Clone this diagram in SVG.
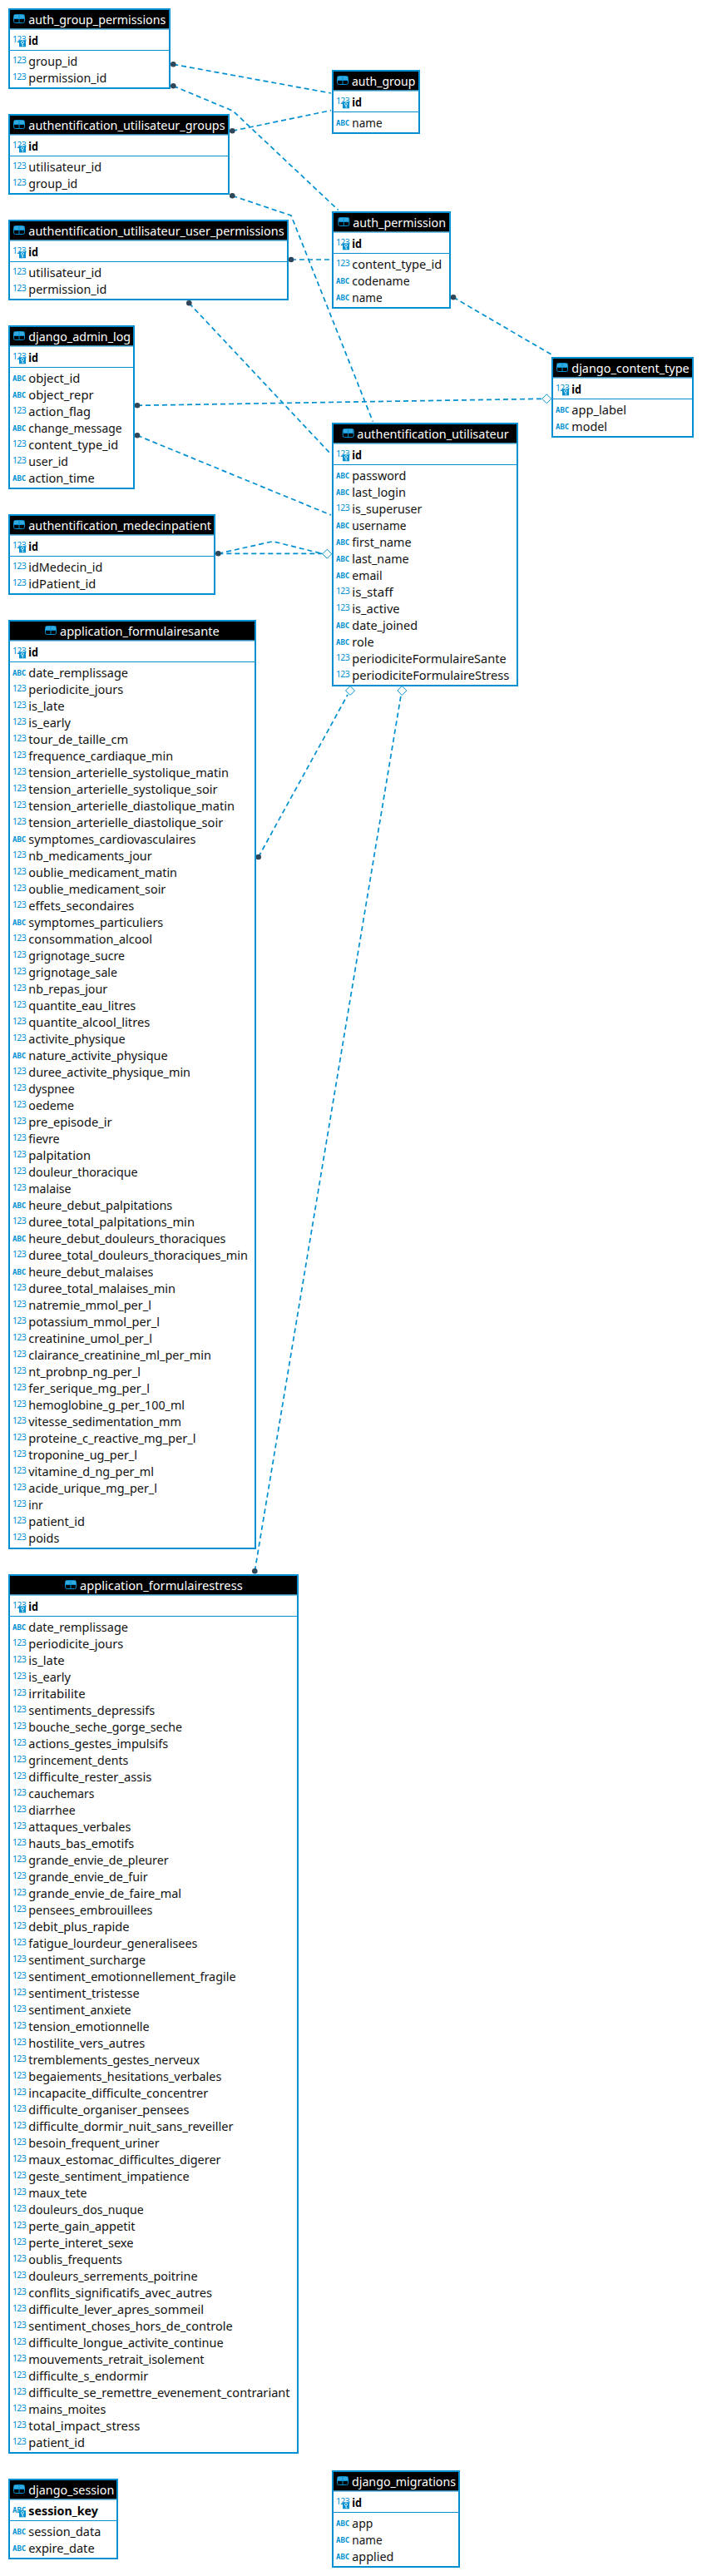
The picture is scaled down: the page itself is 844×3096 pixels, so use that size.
<svg xmlns="http://www.w3.org/2000/svg" xmlns:xlink="http://www.w3.org/1999/xlink" width="844" height="3096" viewBox="0 0 844 3096">
<style>
text{font-family:"Noto Sans","Liberation Sans",sans-serif}
.box{fill:#fff;stroke:#0090d1;stroke-width:2}
.hd{fill:#000}
.sep{stroke:#0090d1;stroke-width:1}
.t{fill:#fff;font-size:14px}
.r{fill:#111;font-size:14px}
.k{fill:#000;font-size:14px;font-weight:700}
.n{fill:#0090d1;font-size:10.5px;letter-spacing:-.65px}
.a{fill:#0090d1;font-family:"DejaVu Sans Mono",monospace;font-size:9px;font-weight:700}
.c{fill:none;stroke:#0090d1;stroke-width:1.7;stroke-dasharray:6 4}
.dot{fill:#2f4658}
.dia{fill:#fff;stroke:#0090d1;stroke-width:1}
</style>
<defs>
<g id="tb"><rect x=".5" y=".5" width="13" height="10" rx="2" fill="#000" stroke="#0090d1"/><rect x="1" y="1" width="12" height="4.5" fill="#35a9de"/><path d="M1 5.5H13M7 1V10" stroke="#0090d1" fill="none"/></g>
<g id="ky"><rect width="8" height="8" fill="#0090d1"/><circle cx="4" cy="2.8" r="1.5" fill="none" stroke="#fff" stroke-width=".8"/><path d="M4 4.3V7M4 6.5H5.4" stroke="#fff" stroke-width=".8" fill="none"/></g>
</defs>
<g id="connectors">
<path class="c" d="M208.3 77.3L398 112"/>
<path class="c" d="M208.3 103.3L280 133.3L406.7 252.5"/>
<path class="c" d="M279.3 157.3L398 132.7"/>
<path class="c" d="M279.3 235.3L350 259L448.3 506.7"/>
<path class="c" d="M350 312H398"/>
<path class="c" d="M227.3 364.3L398 546"/>
<path class="c" d="M545 357.3L665 427.3"/>
<path class="c" d="M165 487.3L651.5 479.3"/>
<path class="c" d="M165 523.3L398 619"/>
<path class="c" d="M262.3 665.3H387.5"/>
<path class="c" d="M262.3 665.3L328 650.7L387.5 665.5"/>
<path class="c" d="M310.7 1030L418 835"/>
<path class="c" d="M306.3 1888.3L482 836"/>
<g id="ends">
<circle class="dot" cx="208.3" cy="77.3" r="3.3"/><circle class="dot" cx="208.3" cy="103.3" r="3.3"/><circle class="dot" cx="279.3" cy="157.3" r="3.3"/><circle class="dot" cx="279.3" cy="235.3" r="3.3"/><circle class="dot" cx="350" cy="312" r="3.3"/><circle class="dot" cx="227.3" cy="364.3" r="3.3"/><circle class="dot" cx="545" cy="357.3" r="3.3"/><circle class="dot" cx="165" cy="487.3" r="3.3"/><circle class="dot" cx="165" cy="523.3" r="3.3"/><circle class="dot" cx="262.3" cy="665.3" r="3.3"/><circle class="dot" cx="310.7" cy="1030" r="3.3"/><circle class="dot" cx="306.3" cy="1888.3" r="3.3"/>
<path class="dia" d="M657.3 473.8L662.8 479.3L657.3 484.8L651.8 479.3Z"/>
<path class="dia" d="M393.3 660.2L398.8 665.7L393.3 671.2L387.8 665.7Z"/>
<path class="dia" d="M421 824.5L426.5 830L421 835.5L415.5 830Z"/>
<path class="dia" d="M483.3 824.5L488.8 830L483.3 835.5L477.8 830Z"/>
</g>
</g>
<g id="auth_group_permissions" transform="translate(10,10)"><rect class="box" x="1" y="1" width="193" height="95"/><rect class="hd" x="2" y="2" width="191" height="22.5"/><path class="sep" d="M2 25H193M2 50.5H193"/><use href="#tb" x="6" y="7"/><text class="t" x="24.3" y="19" textLength="165" lengthAdjust="spacingAndGlyphs">auth_group_permissions</text>
<text class="n" x="5" y="40.7">123</text><use href="#ky" x="13" y="38.3"/><text class="k" x="24.3" y="43.5" textLength="11.7" lengthAdjust="spacingAndGlyphs">id</text>
<text class="n" x="5" y="66">123</text><text class="r" x="24.3" y="69" textLength="59" lengthAdjust="spacingAndGlyphs">group_id</text>
<text class="n" x="5" y="86">123</text><text class="r" x="24.3" y="89" textLength="94" lengthAdjust="spacingAndGlyphs">permission_id</text></g>
<g id="authentification_utilisateur_groups" transform="translate(10,137)"><rect class="box" x="1" y="1" width="264" height="95"/><rect class="hd" x="2" y="2" width="262" height="22.5"/><path class="sep" d="M2 25H264M2 50.5H264"/><use href="#tb" x="6" y="7"/><text class="t" x="24.3" y="19" textLength="236.3" lengthAdjust="spacingAndGlyphs">authentification_utilisateur_groups</text>
<text class="n" x="5" y="40.7">123</text><use href="#ky" x="13" y="38.3"/><text class="k" x="24.3" y="43.5" textLength="11.7" lengthAdjust="spacingAndGlyphs">id</text>
<text class="n" x="5" y="66">123</text><text class="r" x="24.3" y="69" textLength="88" lengthAdjust="spacingAndGlyphs">utilisateur_id</text>
<text class="n" x="5" y="86">123</text><text class="r" x="24.3" y="89" textLength="59" lengthAdjust="spacingAndGlyphs">group_id</text></g>
<g id="authentification_utilisateur_user_permissions" transform="translate(10,264)"><rect class="box" x="1" y="1" width="335" height="95"/><rect class="hd" x="2" y="2" width="333" height="22.5"/><path class="sep" d="M2 25H335M2 50.5H335"/><use href="#tb" x="6" y="7"/><text class="t" x="24.3" y="19" textLength="307.3" lengthAdjust="spacingAndGlyphs">authentification_utilisateur_user_permissions</text>
<text class="n" x="5" y="40.7">123</text><use href="#ky" x="13" y="38.3"/><text class="k" x="24.3" y="43.5" textLength="11.7" lengthAdjust="spacingAndGlyphs">id</text>
<text class="n" x="5" y="66">123</text><text class="r" x="24.3" y="69" textLength="88" lengthAdjust="spacingAndGlyphs">utilisateur_id</text>
<text class="n" x="5" y="86">123</text><text class="r" x="24.3" y="89" textLength="94" lengthAdjust="spacingAndGlyphs">permission_id</text></g>
<g id="django_admin_log" transform="translate(10,391)"><rect class="box" x="1" y="1" width="150" height="195"/><rect class="hd" x="2" y="2" width="148" height="22.5"/><path class="sep" d="M2 25H150M2 50.5H150"/><use href="#tb" x="6" y="7"/><text class="t" x="24.3" y="19" textLength="122.7" lengthAdjust="spacingAndGlyphs">django_admin_log</text>
<text class="n" x="5" y="40.7">123</text><use href="#ky" x="13" y="38.3"/><text class="k" x="24.3" y="43.5" textLength="11.7" lengthAdjust="spacingAndGlyphs">id</text>
<text class="a" x="5" y="67">ABC</text><text class="r" x="24.3" y="69" textLength="62" lengthAdjust="spacingAndGlyphs">object_id</text>
<text class="a" x="5" y="87">ABC</text><text class="r" x="24.3" y="89" textLength="78.3" lengthAdjust="spacingAndGlyphs">object_repr</text>
<text class="n" x="5" y="106">123</text><text class="r" x="24.3" y="109" textLength="74.7" lengthAdjust="spacingAndGlyphs">action_flag</text>
<text class="a" x="5" y="127">ABC</text><text class="r" x="24.3" y="129" textLength="112.3" lengthAdjust="spacingAndGlyphs">change_message</text>
<text class="n" x="5" y="146">123</text><text class="r" x="24.3" y="149" textLength="108" lengthAdjust="spacingAndGlyphs">content_type_id</text>
<text class="n" x="5" y="166">123</text><text class="r" x="24.3" y="169" textLength="47.7" lengthAdjust="spacingAndGlyphs">user_id</text>
<text class="a" x="5" y="187">ABC</text><text class="r" x="24.3" y="189" textLength="79.3" lengthAdjust="spacingAndGlyphs">action_time</text></g>
<g id="authentification_medecinpatient" transform="translate(10,618)"><rect class="box" x="1" y="1" width="247" height="95"/><rect class="hd" x="2" y="2" width="245" height="22.5"/><path class="sep" d="M2 25H247M2 50.5H247"/><use href="#tb" x="6" y="7"/><text class="t" x="24.3" y="19" textLength="219.7" lengthAdjust="spacingAndGlyphs">authentification_medecinpatient</text>
<text class="n" x="5" y="40.7">123</text><use href="#ky" x="13" y="38.3"/><text class="k" x="24.3" y="43.5" textLength="11.7" lengthAdjust="spacingAndGlyphs">id</text>
<text class="n" x="5" y="66">123</text><text class="r" x="24.3" y="69" textLength="89" lengthAdjust="spacingAndGlyphs">idMedecin_id</text>
<text class="n" x="5" y="86">123</text><text class="r" x="24.3" y="89" textLength="81" lengthAdjust="spacingAndGlyphs">idPatient_id</text></g>
<g id="auth_group" transform="translate(399,84)"><rect class="box" x="1" y="1" width="104" height="75"/><rect class="hd" x="2" y="2" width="102" height="22.5"/><path class="sep" d="M2 25H104M2 50.5H104"/><use href="#tb" x="6" y="7"/><text class="t" x="24" y="19" textLength="76.3" lengthAdjust="spacingAndGlyphs">auth_group</text>
<text class="n" x="5" y="40.7">123</text><use href="#ky" x="13" y="38.3"/><text class="k" x="24.3" y="43.5" textLength="11.7" lengthAdjust="spacingAndGlyphs">id</text>
<text class="a" x="5" y="67">ABC</text><text class="r" x="24.3" y="69" textLength="36.3" lengthAdjust="spacingAndGlyphs">name</text></g>
<g id="auth_permission" transform="translate(399,254)"><rect class="box" x="1" y="1" width="141" height="115"/><rect class="hd" x="2" y="2" width="139" height="22.5"/><path class="sep" d="M2 25H141M2 50.5H141"/><use href="#tb" x="7.3" y="7"/><text class="t" x="25.3" y="19" textLength="111.7" lengthAdjust="spacingAndGlyphs">auth_permission</text>
<text class="n" x="5" y="40.7">123</text><use href="#ky" x="13" y="38.3"/><text class="k" x="24.3" y="43.5" textLength="11.7" lengthAdjust="spacingAndGlyphs">id</text>
<text class="n" x="5" y="66">123</text><text class="r" x="24.3" y="69" textLength="108" lengthAdjust="spacingAndGlyphs">content_type_id</text>
<text class="a" x="5" y="87">ABC</text><text class="r" x="24.3" y="89" textLength="69.3" lengthAdjust="spacingAndGlyphs">codename</text>
<text class="a" x="5" y="107">ABC</text><text class="r" x="24.3" y="109" textLength="36.3" lengthAdjust="spacingAndGlyphs">name</text></g>
<g id="django_content_type" transform="translate(663,429)"><rect class="box" x="1" y="1" width="169" height="95"/><rect class="hd" x="2" y="2" width="167" height="22.5"/><path class="sep" d="M2 25H169M2 50.5H169"/><use href="#tb" x="6" y="7"/><text class="t" x="24.3" y="19" textLength="141.3" lengthAdjust="spacingAndGlyphs">django_content_type</text>
<text class="n" x="5" y="40.7">123</text><use href="#ky" x="13" y="38.3"/><text class="k" x="24.3" y="43.5" textLength="11.7" lengthAdjust="spacingAndGlyphs">id</text>
<text class="a" x="5" y="67">ABC</text><text class="r" x="24.3" y="69" textLength="65.7" lengthAdjust="spacingAndGlyphs">app_label</text>
<text class="a" x="5" y="87">ABC</text><text class="r" x="24.3" y="89" textLength="42.7" lengthAdjust="spacingAndGlyphs">model</text></g>
<g id="authentification_utilisateur" transform="translate(399,508)"><rect class="box" x="1" y="1" width="222" height="315"/><rect class="hd" x="2" y="2" width="220" height="22.5"/><path class="sep" d="M2 25H222M2 50.5H222"/><use href="#tb" x="12.7" y="7"/><text class="t" x="30.3" y="19" textLength="182.3" lengthAdjust="spacingAndGlyphs">authentification_utilisateur</text>
<text class="n" x="5" y="40.7">123</text><use href="#ky" x="13" y="38.3"/><text class="k" x="24.3" y="43.5" textLength="11.7" lengthAdjust="spacingAndGlyphs">id</text>
<text class="a" x="5" y="67">ABC</text><text class="r" x="24.3" y="69" textLength="65" lengthAdjust="spacingAndGlyphs">password</text>
<text class="a" x="5" y="87">ABC</text><text class="r" x="24.3" y="89" textLength="64.7" lengthAdjust="spacingAndGlyphs">last_login</text>
<text class="n" x="5" y="106">123</text><text class="r" x="24.3" y="109" textLength="84" lengthAdjust="spacingAndGlyphs">is_superuser</text>
<text class="a" x="5" y="127">ABC</text><text class="r" x="24.3" y="129" textLength="65.3" lengthAdjust="spacingAndGlyphs">username</text>
<text class="a" x="5" y="147">ABC</text><text class="r" x="24.3" y="149" textLength="71.3" lengthAdjust="spacingAndGlyphs">first_name</text>
<text class="a" x="5" y="167">ABC</text><text class="r" x="24.3" y="169" textLength="68.3" lengthAdjust="spacingAndGlyphs">last_name</text>
<text class="a" x="5" y="187">ABC</text><text class="r" x="24.3" y="189" textLength="36.3" lengthAdjust="spacingAndGlyphs">email</text>
<text class="n" x="5" y="206">123</text><text class="r" x="24.3" y="209" textLength="49.3" lengthAdjust="spacingAndGlyphs">is_staff</text>
<text class="n" x="5" y="226">123</text><text class="r" x="24.3" y="229" textLength="57.3" lengthAdjust="spacingAndGlyphs">is_active</text>
<text class="a" x="5" y="247">ABC</text><text class="r" x="24.3" y="249" textLength="78.7" lengthAdjust="spacingAndGlyphs">date_joined</text>
<text class="a" x="5" y="267">ABC</text><text class="r" x="24.3" y="269" textLength="26.3" lengthAdjust="spacingAndGlyphs">role</text>
<text class="n" x="5" y="286">123</text><text class="r" x="24.3" y="289" textLength="185.3" lengthAdjust="spacingAndGlyphs">periodiciteFormulaireSante</text>
<text class="n" x="5" y="306">123</text><text class="r" x="24.3" y="309" textLength="189" lengthAdjust="spacingAndGlyphs">periodiciteFormulaireStress</text></g>
<g id="application_formulairesante" transform="translate(10,745)"><rect class="box" x="1" y="1" width="296" height="1115"/><rect class="hd" x="2" y="2" width="294" height="22.5"/><path class="sep" d="M2 25H296M2 50.5H296"/><use href="#tb" x="44" y="7"/><text class="t" x="62" y="19" textLength="191.7" lengthAdjust="spacingAndGlyphs">application_formulairesante</text>
<text class="n" x="5" y="40.7">123</text><use href="#ky" x="13" y="38.3"/><text class="k" x="24.3" y="43.5" textLength="11.7" lengthAdjust="spacingAndGlyphs">id</text>
<text class="a" x="5" y="67">ABC</text><text class="r" x="24.3" y="69" textLength="119.7" lengthAdjust="spacingAndGlyphs">date_remplissage</text>
<text class="n" x="5" y="86">123</text><text class="r" x="24.3" y="89" textLength="114" lengthAdjust="spacingAndGlyphs">periodicite_jours</text>
<text class="n" x="5" y="106">123</text><text class="r" x="24.3" y="109" textLength="43.3" lengthAdjust="spacingAndGlyphs">is_late</text>
<text class="n" x="5" y="126">123</text><text class="r" x="24.3" y="129" textLength="50.7" lengthAdjust="spacingAndGlyphs">is_early</text>
<text class="n" x="5" y="146">123</text><text class="r" x="24.3" y="149" textLength="120" lengthAdjust="spacingAndGlyphs">tour_de_taille_cm</text>
<text class="n" x="5" y="166">123</text><text class="r" x="24.3" y="169" textLength="173.7" lengthAdjust="spacingAndGlyphs">frequence_cardiaque_min</text>
<text class="n" x="5" y="186">123</text><text class="r" x="24.3" y="189" textLength="240.7" lengthAdjust="spacingAndGlyphs">tension_arterielle_systolique_matin</text>
<text class="n" x="5" y="206">123</text><text class="r" x="24.3" y="209" textLength="227.3" lengthAdjust="spacingAndGlyphs">tension_arterielle_systolique_soir</text>
<text class="n" x="5" y="226">123</text><text class="r" x="24.3" y="229" textLength="247.7" lengthAdjust="spacingAndGlyphs">tension_arterielle_diastolique_matin</text>
<text class="n" x="5" y="246">123</text><text class="r" x="24.3" y="249" textLength="234" lengthAdjust="spacingAndGlyphs">tension_arterielle_diastolique_soir</text>
<text class="a" x="5" y="267">ABC</text><text class="r" x="24.3" y="269" textLength="201" lengthAdjust="spacingAndGlyphs">symptomes_cardiovasculaires</text>
<text class="n" x="5" y="286">123</text><text class="r" x="24.3" y="289" textLength="148.3" lengthAdjust="spacingAndGlyphs">nb_medicaments_jour</text>
<text class="n" x="5" y="306">123</text><text class="r" x="24.3" y="309" textLength="178.7" lengthAdjust="spacingAndGlyphs">oublie_medicament_matin</text>
<text class="n" x="5" y="326">123</text><text class="r" x="24.3" y="329" textLength="165" lengthAdjust="spacingAndGlyphs">oublie_medicament_soir</text>
<text class="n" x="5" y="346">123</text><text class="r" x="24.3" y="349" textLength="127" lengthAdjust="spacingAndGlyphs">effets_secondaires</text>
<text class="a" x="5" y="367">ABC</text><text class="r" x="24.3" y="369" textLength="162" lengthAdjust="spacingAndGlyphs">symptomes_particuliers</text>
<text class="n" x="5" y="386">123</text><text class="r" x="24.3" y="389" textLength="148.7" lengthAdjust="spacingAndGlyphs">consommation_alcool</text>
<text class="n" x="5" y="406">123</text><text class="r" x="24.3" y="409" textLength="115.7" lengthAdjust="spacingAndGlyphs">grignotage_sucre</text>
<text class="n" x="5" y="426">123</text><text class="r" x="24.3" y="429" textLength="106.7" lengthAdjust="spacingAndGlyphs">grignotage_sale</text>
<text class="n" x="5" y="446">123</text><text class="r" x="24.3" y="449" textLength="95" lengthAdjust="spacingAndGlyphs">nb_repas_jour</text>
<text class="n" x="5" y="466">123</text><text class="r" x="24.3" y="469" textLength="129" lengthAdjust="spacingAndGlyphs">quantite_eau_litres</text>
<text class="n" x="5" y="486">123</text><text class="r" x="24.3" y="489" textLength="146" lengthAdjust="spacingAndGlyphs">quantite_alcool_litres</text>
<text class="n" x="5" y="506">123</text><text class="r" x="24.3" y="509" textLength="116.3" lengthAdjust="spacingAndGlyphs">activite_physique</text>
<text class="a" x="5" y="527">ABC</text><text class="r" x="24.3" y="529" textLength="167.3" lengthAdjust="spacingAndGlyphs">nature_activite_physique</text>
<text class="n" x="5" y="546">123</text><text class="r" x="24.3" y="549" textLength="194.7" lengthAdjust="spacingAndGlyphs">duree_activite_physique_min</text>
<text class="n" x="5" y="566">123</text><text class="r" x="24.3" y="569" textLength="55.3" lengthAdjust="spacingAndGlyphs">dyspnee</text>
<text class="n" x="5" y="586">123</text><text class="r" x="24.3" y="589" textLength="54.7" lengthAdjust="spacingAndGlyphs">oedeme</text>
<text class="n" x="5" y="606">123</text><text class="r" x="24.3" y="609" textLength="100.3" lengthAdjust="spacingAndGlyphs">pre_episode_ir</text>
<text class="n" x="5" y="626">123</text><text class="r" x="24.3" y="629" textLength="37.3" lengthAdjust="spacingAndGlyphs">fievre</text>
<text class="n" x="5" y="646">123</text><text class="r" x="24.3" y="649" textLength="74.7" lengthAdjust="spacingAndGlyphs">palpitation</text>
<text class="n" x="5" y="666">123</text><text class="r" x="24.3" y="669" textLength="131.3" lengthAdjust="spacingAndGlyphs">douleur_thoracique</text>
<text class="n" x="5" y="686">123</text><text class="r" x="24.3" y="689" textLength="51.3" lengthAdjust="spacingAndGlyphs">malaise</text>
<text class="a" x="5" y="707">ABC</text><text class="r" x="24.3" y="709" textLength="173" lengthAdjust="spacingAndGlyphs">heure_debut_palpitations</text>
<text class="n" x="5" y="726">123</text><text class="r" x="24.3" y="729" textLength="199.7" lengthAdjust="spacingAndGlyphs">duree_total_palpitations_min</text>
<text class="a" x="5" y="747">ABC</text><text class="r" x="24.3" y="749" textLength="237" lengthAdjust="spacingAndGlyphs">heure_debut_douleurs_thoraciques</text>
<text class="n" x="5" y="766">123</text><text class="r" x="24.3" y="769" textLength="263.7" lengthAdjust="spacingAndGlyphs">duree_total_douleurs_thoraciques_min</text>
<text class="a" x="5" y="787">ABC</text><text class="r" x="24.3" y="789" textLength="150" lengthAdjust="spacingAndGlyphs">heure_debut_malaises</text>
<text class="n" x="5" y="806">123</text><text class="r" x="24.3" y="809" textLength="176.7" lengthAdjust="spacingAndGlyphs">duree_total_malaises_min</text>
<text class="n" x="5" y="826">123</text><text class="r" x="24.3" y="829" textLength="147.7" lengthAdjust="spacingAndGlyphs">natremie_mmol_per_l</text>
<text class="n" x="5" y="846">123</text><text class="r" x="24.3" y="849" textLength="157.7" lengthAdjust="spacingAndGlyphs">potassium_mmol_per_l</text>
<text class="n" x="5" y="866">123</text><text class="r" x="24.3" y="869" textLength="148.7" lengthAdjust="spacingAndGlyphs">creatinine_umol_per_l</text>
<text class="n" x="5" y="886">123</text><text class="r" x="24.3" y="889" textLength="219.7" lengthAdjust="spacingAndGlyphs">clairance_creatinine_ml_per_min</text>
<text class="n" x="5" y="906">123</text><text class="r" x="24.3" y="909" textLength="134.7" lengthAdjust="spacingAndGlyphs">nt_probnp_ng_per_l</text>
<text class="n" x="5" y="926">123</text><text class="r" x="24.3" y="929" textLength="145.7" lengthAdjust="spacingAndGlyphs">fer_serique_mg_per_l</text>
<text class="n" x="5" y="946">123</text><text class="r" x="24.3" y="949" textLength="187.7" lengthAdjust="spacingAndGlyphs">hemoglobine_g_per_100_ml</text>
<text class="n" x="5" y="966">123</text><text class="r" x="24.3" y="969" textLength="183.7" lengthAdjust="spacingAndGlyphs">vitesse_sedimentation_mm</text>
<text class="n" x="5" y="986">123</text><text class="r" x="24.3" y="989" textLength="201.3" lengthAdjust="spacingAndGlyphs">proteine_c_reactive_mg_per_l</text>
<text class="n" x="5" y="1006">123</text><text class="r" x="24.3" y="1009" textLength="130.7" lengthAdjust="spacingAndGlyphs">troponine_ug_per_l</text>
<text class="n" x="5" y="1026">123</text><text class="r" x="24.3" y="1029" textLength="150.7" lengthAdjust="spacingAndGlyphs">vitamine_d_ng_per_ml</text>
<text class="n" x="5" y="1046">123</text><text class="r" x="24.3" y="1049" textLength="154.7" lengthAdjust="spacingAndGlyphs">acide_urique_mg_per_l</text>
<text class="n" x="5" y="1066">123</text><text class="r" x="24.3" y="1069" textLength="17.3" lengthAdjust="spacingAndGlyphs">inr</text>
<text class="n" x="5" y="1086">123</text><text class="r" x="24.3" y="1089" textLength="67.7" lengthAdjust="spacingAndGlyphs">patient_id</text>
<text class="n" x="5" y="1106">123</text><text class="r" x="24.3" y="1109" textLength="37" lengthAdjust="spacingAndGlyphs">poids</text></g>
<g id="application_formulairestress" transform="translate(10,1892)"><rect class="box" x="1" y="1" width="347" height="1055"/><rect class="hd" x="2" y="2" width="345" height="22.5"/><path class="sep" d="M2 25H347M2 50.5H347"/><use href="#tb" x="68" y="7"/><text class="t" x="86" y="19" textLength="195.7" lengthAdjust="spacingAndGlyphs">application_formulairestress</text>
<text class="n" x="5" y="40.7">123</text><use href="#ky" x="13" y="38.3"/><text class="k" x="24.3" y="43.5" textLength="11.7" lengthAdjust="spacingAndGlyphs">id</text>
<text class="a" x="5" y="67">ABC</text><text class="r" x="24.3" y="69" textLength="119.7" lengthAdjust="spacingAndGlyphs">date_remplissage</text>
<text class="n" x="5" y="86">123</text><text class="r" x="24.3" y="89" textLength="114" lengthAdjust="spacingAndGlyphs">periodicite_jours</text>
<text class="n" x="5" y="106">123</text><text class="r" x="24.3" y="109" textLength="43.3" lengthAdjust="spacingAndGlyphs">is_late</text>
<text class="n" x="5" y="126">123</text><text class="r" x="24.3" y="129" textLength="50.7" lengthAdjust="spacingAndGlyphs">is_early</text>
<text class="n" x="5" y="146">123</text><text class="r" x="24.3" y="149" textLength="68.3" lengthAdjust="spacingAndGlyphs">irritabilite</text>
<text class="n" x="5" y="166">123</text><text class="r" x="24.3" y="169" textLength="152" lengthAdjust="spacingAndGlyphs">sentiments_depressifs</text>
<text class="n" x="5" y="186">123</text><text class="r" x="24.3" y="189" textLength="184.7" lengthAdjust="spacingAndGlyphs">bouche_seche_gorge_seche</text>
<text class="n" x="5" y="206">123</text><text class="r" x="24.3" y="209" textLength="168" lengthAdjust="spacingAndGlyphs">actions_gestes_impulsifs</text>
<text class="n" x="5" y="226">123</text><text class="r" x="24.3" y="229" textLength="120" lengthAdjust="spacingAndGlyphs">grincement_dents</text>
<text class="n" x="5" y="246">123</text><text class="r" x="24.3" y="249" textLength="148" lengthAdjust="spacingAndGlyphs">difficulte_rester_assis</text>
<text class="n" x="5" y="266">123</text><text class="r" x="24.3" y="269" textLength="79" lengthAdjust="spacingAndGlyphs">cauchemars</text>
<text class="n" x="5" y="286">123</text><text class="r" x="24.3" y="289" textLength="56.3" lengthAdjust="spacingAndGlyphs">diarrhee</text>
<text class="n" x="5" y="306">123</text><text class="r" x="24.3" y="309" textLength="123" lengthAdjust="spacingAndGlyphs">attaques_verbales</text>
<text class="n" x="5" y="326">123</text><text class="r" x="24.3" y="329" textLength="127" lengthAdjust="spacingAndGlyphs">hauts_bas_emotifs</text>
<text class="n" x="5" y="346">123</text><text class="r" x="24.3" y="349" textLength="168.3" lengthAdjust="spacingAndGlyphs">grande_envie_de_pleurer</text>
<text class="n" x="5" y="366">123</text><text class="r" x="24.3" y="369" textLength="143.3" lengthAdjust="spacingAndGlyphs">grande_envie_de_fuir</text>
<text class="n" x="5" y="386">123</text><text class="r" x="24.3" y="389" textLength="183.7" lengthAdjust="spacingAndGlyphs">grande_envie_de_faire_mal</text>
<text class="n" x="5" y="406">123</text><text class="r" x="24.3" y="409" textLength="149" lengthAdjust="spacingAndGlyphs">pensees_embrouillees</text>
<text class="n" x="5" y="426">123</text><text class="r" x="24.3" y="429" textLength="121.3" lengthAdjust="spacingAndGlyphs">debit_plus_rapide</text>
<text class="n" x="5" y="446">123</text><text class="r" x="24.3" y="449" textLength="203" lengthAdjust="spacingAndGlyphs">fatigue_lourdeur_generalisees</text>
<text class="n" x="5" y="466">123</text><text class="r" x="24.3" y="469" textLength="140.7" lengthAdjust="spacingAndGlyphs">sentiment_surcharge</text>
<text class="n" x="5" y="486">123</text><text class="r" x="24.3" y="489" textLength="249.3" lengthAdjust="spacingAndGlyphs">sentiment_emotionnellement_fragile</text>
<text class="n" x="5" y="506">123</text><text class="r" x="24.3" y="509" textLength="133.3" lengthAdjust="spacingAndGlyphs">sentiment_tristesse</text>
<text class="n" x="5" y="526">123</text><text class="r" x="24.3" y="529" textLength="123.3" lengthAdjust="spacingAndGlyphs">sentiment_anxiete</text>
<text class="n" x="5" y="546">123</text><text class="r" x="24.3" y="549" textLength="145.3" lengthAdjust="spacingAndGlyphs">tension_emotionnelle</text>
<text class="n" x="5" y="566">123</text><text class="r" x="24.3" y="569" textLength="140" lengthAdjust="spacingAndGlyphs">hostilite_vers_autres</text>
<text class="n" x="5" y="586">123</text><text class="r" x="24.3" y="589" textLength="205.7" lengthAdjust="spacingAndGlyphs">tremblements_gestes_nerveux</text>
<text class="n" x="5" y="606">123</text><text class="r" x="24.3" y="609" textLength="232" lengthAdjust="spacingAndGlyphs">begaiements_hesitations_verbales</text>
<text class="n" x="5" y="626">123</text><text class="r" x="24.3" y="629" textLength="216" lengthAdjust="spacingAndGlyphs">incapacite_difficulte_concentrer</text>
<text class="n" x="5" y="646">123</text><text class="r" x="24.3" y="649" textLength="193" lengthAdjust="spacingAndGlyphs">difficulte_organiser_pensees</text>
<text class="n" x="5" y="666">123</text><text class="r" x="24.3" y="669" textLength="246.3" lengthAdjust="spacingAndGlyphs">difficulte_dormir_nuit_sans_reveiller</text>
<text class="n" x="5" y="686">123</text><text class="r" x="24.3" y="689" textLength="157.3" lengthAdjust="spacingAndGlyphs">besoin_frequent_uriner</text>
<text class="n" x="5" y="706">123</text><text class="r" x="24.3" y="709" textLength="231.3" lengthAdjust="spacingAndGlyphs">maux_estomac_difficultes_digerer</text>
<text class="n" x="5" y="726">123</text><text class="r" x="24.3" y="729" textLength="193.3" lengthAdjust="spacingAndGlyphs">geste_sentiment_impatience</text>
<text class="n" x="5" y="746">123</text><text class="r" x="24.3" y="749" textLength="70.3" lengthAdjust="spacingAndGlyphs">maux_tete</text>
<text class="n" x="5" y="766">123</text><text class="r" x="24.3" y="769" textLength="138.3" lengthAdjust="spacingAndGlyphs">douleurs_dos_nuque</text>
<text class="n" x="5" y="786">123</text><text class="r" x="24.3" y="789" textLength="128.3" lengthAdjust="spacingAndGlyphs">perte_gain_appetit</text>
<text class="n" x="5" y="806">123</text><text class="r" x="24.3" y="809" textLength="126.3" lengthAdjust="spacingAndGlyphs">perte_interet_sexe</text>
<text class="n" x="5" y="826">123</text><text class="r" x="24.3" y="829" textLength="112.7" lengthAdjust="spacingAndGlyphs">oublis_frequents</text>
<text class="n" x="5" y="846">123</text><text class="r" x="24.3" y="849" textLength="203.3" lengthAdjust="spacingAndGlyphs">douleurs_serrements_poitrine</text>
<text class="n" x="5" y="866">123</text><text class="r" x="24.3" y="869" textLength="220.7" lengthAdjust="spacingAndGlyphs">conflits_significatifs_avec_autres</text>
<text class="n" x="5" y="886">123</text><text class="r" x="24.3" y="889" textLength="210.7" lengthAdjust="spacingAndGlyphs">difficulte_lever_apres_sommeil</text>
<text class="n" x="5" y="906">123</text><text class="r" x="24.3" y="909" textLength="245.3" lengthAdjust="spacingAndGlyphs">sentiment_choses_hors_de_controle</text>
<text class="n" x="5" y="926">123</text><text class="r" x="24.3" y="929" textLength="234.3" lengthAdjust="spacingAndGlyphs">difficulte_longue_activite_continue</text>
<text class="n" x="5" y="946">123</text><text class="r" x="24.3" y="949" textLength="211.3" lengthAdjust="spacingAndGlyphs">mouvements_retrait_isolement</text>
<text class="n" x="5" y="966">123</text><text class="r" x="24.3" y="969" textLength="144" lengthAdjust="spacingAndGlyphs">difficulte_s_endormir</text>
<text class="n" x="5" y="986">123</text><text class="r" x="24.3" y="989" textLength="314.3" lengthAdjust="spacingAndGlyphs">difficulte_se_remettre_evenement_contrariant</text>
<text class="n" x="5" y="1006">123</text><text class="r" x="24.3" y="1009" textLength="93" lengthAdjust="spacingAndGlyphs">mains_moites</text>
<text class="n" x="5" y="1026">123</text><text class="r" x="24.3" y="1029" textLength="134" lengthAdjust="spacingAndGlyphs">total_impact_stress</text>
<text class="n" x="5" y="1046">123</text><text class="r" x="24.3" y="1049" textLength="67.7" lengthAdjust="spacingAndGlyphs">patient_id</text></g>
<g id="django_session" transform="translate(10,2979)"><rect class="box" x="1" y="1" width="130" height="95"/><rect class="hd" x="2" y="2" width="128" height="22.5"/><path class="sep" d="M2 25H130M2 50.5H130"/><use href="#tb" x="6" y="7"/><text class="t" x="24.3" y="19" textLength="103" lengthAdjust="spacingAndGlyphs">django_session</text>
<text class="a" x="5" y="41">ABC</text><use href="#ky" x="13" y="38.3"/><text class="k" x="24.3" y="43.5" textLength="83.6" lengthAdjust="spacingAndGlyphs">session_key</text>
<text class="a" x="5" y="67">ABC</text><text class="r" x="24.3" y="69" textLength="87" lengthAdjust="spacingAndGlyphs">session_data</text>
<text class="a" x="5" y="87">ABC</text><text class="r" x="24.3" y="89" textLength="79.3" lengthAdjust="spacingAndGlyphs">expire_date</text></g>
<g id="django_migrations" transform="translate(399,2969)"><rect class="box" x="1" y="1" width="152" height="115"/><rect class="hd" x="2" y="2" width="150" height="22.5"/><path class="sep" d="M2 25H152M2 50.5H152"/><use href="#tb" x="6" y="7"/><text class="t" x="24" y="19" textLength="125" lengthAdjust="spacingAndGlyphs">django_migrations</text>
<text class="n" x="5" y="40.7">123</text><use href="#ky" x="13" y="38.3"/><text class="k" x="24.3" y="43.5" textLength="11.7" lengthAdjust="spacingAndGlyphs">id</text>
<text class="a" x="5" y="67">ABC</text><text class="r" x="24.3" y="69" textLength="25" lengthAdjust="spacingAndGlyphs">app</text>
<text class="a" x="5" y="87">ABC</text><text class="r" x="24.3" y="89" textLength="36.3" lengthAdjust="spacingAndGlyphs">name</text>
<text class="a" x="5" y="107">ABC</text><text class="r" x="24.3" y="109" textLength="50" lengthAdjust="spacingAndGlyphs">applied</text></g>
</svg>
